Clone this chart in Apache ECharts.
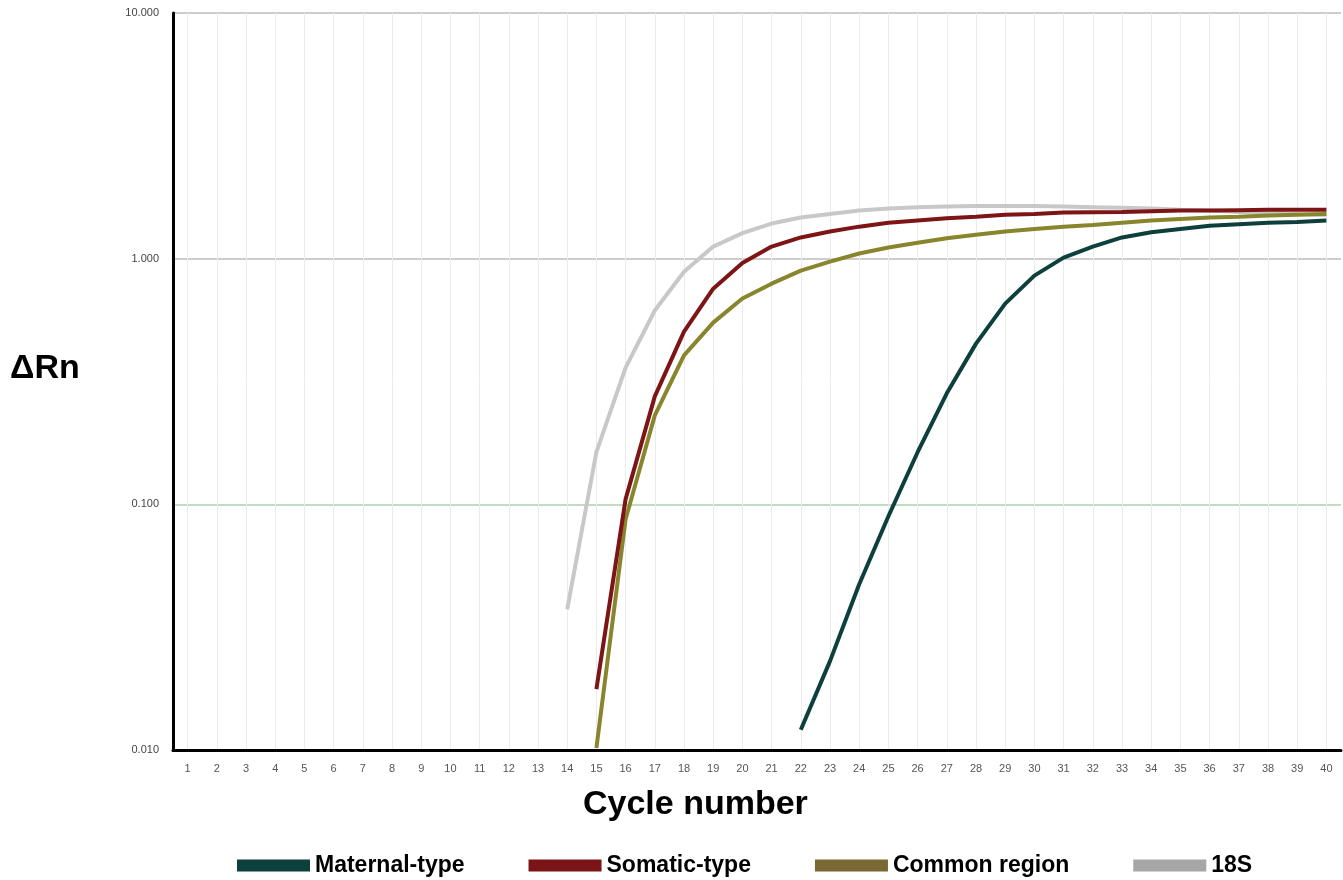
<!DOCTYPE html>
<html>
<head>
<meta charset="utf-8">
<script src="https://cdn.jsdelivr.net/npm/echarts@6/dist/echarts.min.js"></script>
<style>
html,body{margin:0;padding:0;background:#fff;}
#chart{width:1343px;height:880px;}
</style>
</head>
<body>
<div id="chart"></div>
<script>
const cycles = Array.from({length: 40}, (_, i) => String(i + 1));
const yTicks = ['0.010', '0.100', '1.000', '10.000'];
const seriesNames = ['Maternal-type', 'Somatic-type', 'Common region', '18S'];

// values per cycle (null = not plotted)
const maternal = [null,null,null,null,null,null,null,null,null,null,
  null,null,null,null,null,null,null,null,null,null,
  null,0.0121,0.0230,0.0473,0.0894,0.163,0.283,0.451,0.656,0.853,
  1.01,1.12,1.22,1.28,1.32,1.36,1.38,1.40,1.41,1.43];
const somatic = [null,null,null,null,null,null,null,null,null,null,
  null,null,null,null,0.0177,0.105,0.275,0.505,0.755,0.96,
  1.12,1.22,1.29,1.35,1.40,1.43,1.46,1.48,1.51,1.52,
  1.54,1.545,1.55,1.56,1.57,1.57,1.575,1.58,1.58,1.58];
const common = [null,null,null,null,null,null,null,null,null,null,
  null,null,null,null,0.0102,0.087,0.230,0.404,0.549,0.688,
  0.791,0.894,0.972,1.05,1.11,1.16,1.21,1.25,1.29,1.32,
  1.35,1.37,1.40,1.43,1.45,1.47,1.48,1.50,1.51,1.52];
const s18 = [null,null,null,null,null,null,null,null,null,null,
  null,null,null,0.0374,0.163,0.360,0.615,0.885,1.12,1.27,
  1.39,1.47,1.52,1.57,1.60,1.62,1.63,1.64,1.64,1.64,
  1.63,1.62,1.61,1.60,1.58,1.57,1.55,1.54,1.52,1.51];

const lineColors = ['#0d3f3c', '#7d1416', '#88852c', '#c8c8c8'];
const legendColors = ['#0d3f3c', '#7a1416', '#7b6935', '#a6a6a6'];
const dataSets = [maternal, somatic, common, s18];

const chart = echarts.init(document.getElementById('chart'));
chart.setOption({
  animation: false,
  backgroundColor: '#fff',
  grid: {left: 173, right: 2, top: 13, bottom: 130},
  legend: {
    left: 232, top: 849,
    icon: 'rect', itemWidth: 73, itemHeight: 12, itemGap: 64,
    textStyle: {fontFamily: 'Liberation Sans, Arial, sans-serif', fontWeight: 'bold', fontSize: 23, color: '#000'},
    data: seriesNames
  },
  xAxis: {
    type: 'category',
    data: cycles,
    boundaryGap: true,
    axisLine: {lineStyle: {color: '#000', width: 3}},
    axisTick: {show: false},
    axisLabel: {fontFamily: 'Liberation Sans, Arial, sans-serif', fontSize: 11, color: '#555', margin: 13, interval: 0},
    splitLine: {show: true, alignWithLabel: true, lineStyle: {color: '#ebebeb', width: 1}}
  },
  yAxis: {
    type: 'log',
    logBase: 10,
    min: 0.01,
    max: 10,
    axisLine: {show: true, lineStyle: {color: '#000', width: 3}},
    axisTick: {show: false},
    axisLabel: {
      fontFamily: 'Liberation Sans, Arial, sans-serif', fontSize: 11, color: '#444', margin: 14,
      formatter: function (v) {
        const s = v.toFixed(3);
        return yTicks.indexOf(s) >= 0 ? s : '';
      }
    },
    splitLine: {show: true, lineStyle: {color: ['#bdbdbd', '#a9d3a9', '#bdbdbd', '#bdbdbd'], width: 1.5}}
  },
  graphic: [{
    type: 'text', left: 10, top: 352,
    style: {text: 'ΔRn', font: 'bold 34px "Liberation Sans", Arial, sans-serif', fill: '#000'}
  }, {
    type: 'text', left: 583, top: 788,
    style: {text: 'Cycle number', font: 'bold 34px "Liberation Sans", Arial, sans-serif', fill: '#000'}
  }],
  series: dataSets.map((d, i) => ({
    name: seriesNames[i],
    type: 'line',
    data: d,
    showSymbol: false,
    symbol: 'none',
    connectNulls: false,
    z: 10 - i,
    lineStyle: {color: lineColors[i], width: 4},
    itemStyle: {color: legendColors[i]}
  }))
});
</script>
</body>
</html>
